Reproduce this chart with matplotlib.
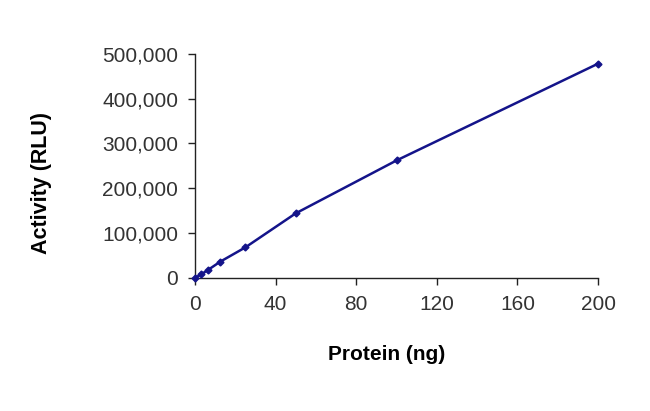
import matplotlib.pyplot as plt
from matplotlib.ticker import FuncFormatter

# Protein amount (ng) vs luminescence activity (RLU)
protein = [0, 3.125, 6.25, 12.5, 25, 50, 100, 200]
activity = [0, 8000, 17000, 36000, 68000, 144000, 262000, 478000]

x_ticks = [0, 40, 80, 120, 160, 200]
y_ticks = [0, 100000, 200000, 300000, 400000, 500000]

plt.rcParams['font.family'] = ['Liberation Sans', 'DejaVu Sans']

fig = plt.figure(figsize=(6.5, 4.11), dpi=100)
ax = fig.add_axes([0.3, 0.324, 0.62, 0.545])

ax.plot(protein, activity, color='#14148a', linewidth=1.8,
        marker='D', markersize=3.5, clip_on=False, zorder=3)

ax.set_xlim(0, 200)
ax.set_ylim(0, 500000)
ax.set_xticks(x_ticks)
ax.set_yticks(y_ticks)
ax.yaxis.set_major_formatter(FuncFormatter(lambda v, p: f'{int(v):,}'))

for side in ['top', 'right']:
    ax.spines[side].set_visible(False)
for side in ['left', 'bottom']:
    ax.spines[side].set_color('#222222')
    ax.spines[side].set_linewidth(1.0)

ax.tick_params(direction='out', length=5, width=1.0, color='#222222',
               labelsize=15, labelcolor='#333333', pad=7)

ax.set_xlabel('Protein (ng)', fontsize=15, fontweight='bold')
ax.set_ylabel('Activity (RLU)', fontsize=15.5, fontweight='bold')
ax.xaxis.set_label_coords(0.476, -0.30)
ax.yaxis.set_label_coords(-0.355, 0.423)

fig.savefig('out.png', dpi=100)
